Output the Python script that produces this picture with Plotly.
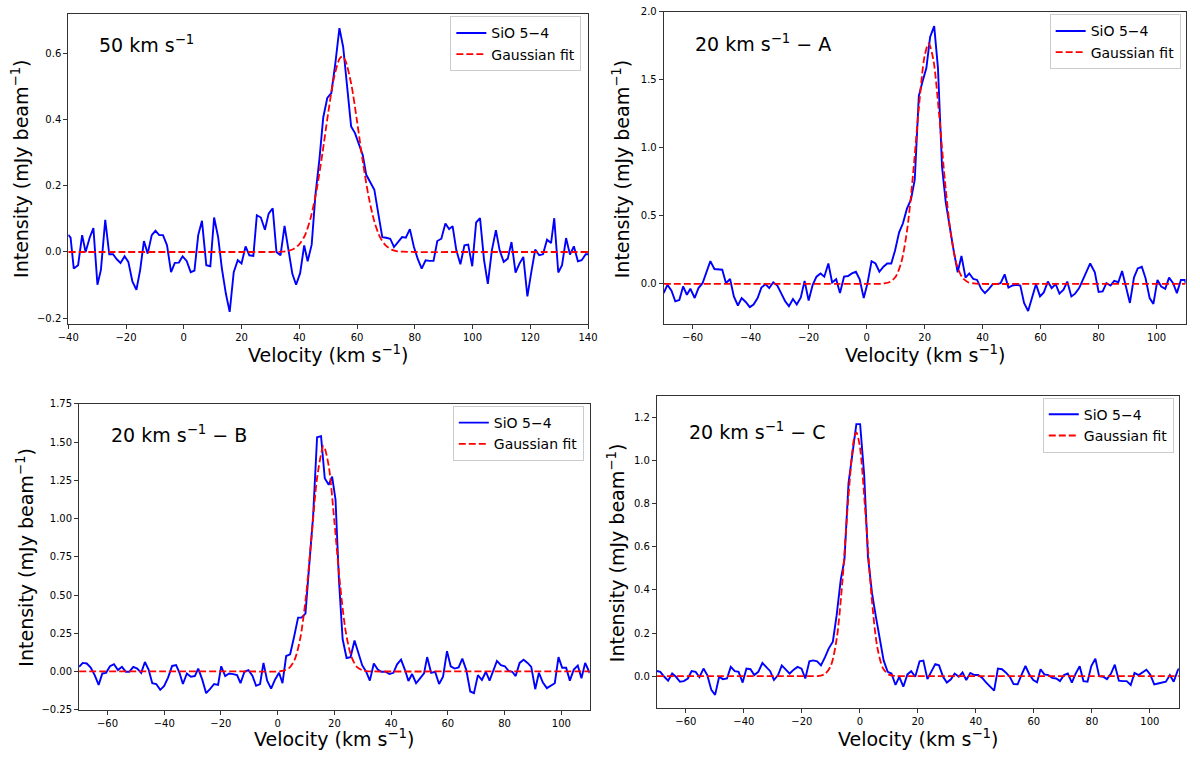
import plotly.graph_objects as go

FONT = "DejaVu Sans"
W, H = 1200, 758

# ---------------- data ----------------
# Panel 1: 50 km/s
v1 = [-40.0, -39.2, -38.1, -36.6, -35.2, -34.0, -32.6, -31.3, -29.9, -28.7,
      -27.2, -25.8, -24.5, -23.2, -21.9, -20.5, -19.2, -17.8, -16.4, -15.1,
      -13.8, -12.5, -11.1, -9.8, -8.5, -7.2, -5.8, -4.4, -3.1, -1.7,
      -0.4, 1.0, 2.4, 3.7, 5.0, 6.3, 7.8, 9.2, 10.5, 11.9,
      13.2, 14.6, 15.9, 17.3, 18.7, 20.0, 21.4, 22.7, 24.1, 25.3,
      26.7, 28.1, 29.4, 30.8, 32.1, 33.5, 34.9, 36.2, 37.6, 38.9,
      40.3, 41.7, 42.9, 44.3, 45.6, 47.0, 48.3, 49.7, 51.1, 52.5,
      53.9, 55.2, 56.6, 57.95, 59.3, 60.7, 62.0, 63.2, 64.5, 66.0,
      67.4, 68.75, 70.1, 71.5, 72.8, 74.2, 75.6, 76.9, 78.3, 79.7,
      81.0, 82.4, 83.75, 85.1, 86.5, 87.8, 89.2, 90.6, 91.9, 93.1,
      94.4, 95.8, 97.2, 98.5, 99.9, 101.25, 102.6, 104.0, 105.3, 106.7,
      108.1, 109.4, 110.8, 112.2, 113.5, 114.9, 116.25, 117.6, 119.0, 120.3,
      121.7, 123.1, 124.4, 125.8, 127.2, 128.3, 129.7, 131.0, 132.4, 133.75,
      135.1, 136.5, 137.8, 139.2, 140.0]
i1 = [0.052, 0.043, -0.050, -0.040, 0.051, 0.000, 0.043, 0.072, -0.099, -0.054,
      0.097, -0.007, -0.007, -0.022, -0.033, -0.013, -0.030, -0.089, -0.114, -0.054,
      0.033, -0.005, 0.051, 0.064, 0.051, 0.051, 0.020, -0.061, -0.033, -0.032,
      -0.013, -0.027, -0.061, -0.056, 0.051, 0.094, -0.040, -0.043, 0.104, 0.045,
      -0.050, -0.127, -0.181, -0.061, -0.025, -0.035, 0.017, -0.010, -0.012, 0.111,
      0.104, 0.067, 0.116, 0.132, 0.000, -0.010, 0.079, 0.015, -0.066, -0.099,
      -0.064, 0.020, -0.028, 0.022, 0.173, 0.282, 0.406, 0.465, 0.480, 0.570,
      0.676, 0.619, 0.500, 0.379, 0.359, 0.327, 0.292, 0.233, 0.213, 0.188,
      0.114, 0.045, 0.043, 0.040, 0.015, 0.030, 0.045, 0.043, 0.069, 0.015,
      -0.020, -0.050, -0.025, -0.027, -0.027, 0.033, 0.040, 0.086, 0.069, 0.078,
      0.005, -0.037, 0.020, 0.022, -0.043, 0.089, 0.102, -0.025, -0.096, 0.005,
      0.066, 0.005, -0.030, -0.020, 0.030, -0.062, -0.035, -0.015, -0.134, -0.064,
      0.007, -0.010, -0.007, 0.037, 0.027, 0.102, -0.062, -0.040, 0.042, -0.008,
      0.017, -0.028, -0.025, -0.007, -0.007]
fit1_v = [-40, -20, 0, 20, 30, 34, 36, 38, 40, 42, 44, 46, 48, 50, 52, 54, 55,
          56, 58, 60, 62, 64, 66, 68, 70, 72, 74, 76, 80, 100, 120, 140]
fit1_i = [0, 0, 0, 0, 0, 0.001, 0.003, 0.009, 0.023, 0.051, 0.105, 0.187, 0.297,
          0.419, 0.525, 0.584, 0.590, 0.577, 0.507, 0.395, 0.273, 0.168, 0.092,
          0.044, 0.019, 0.007, 0.002, 0.001, 0, 0, 0, 0]

# Panel 2: 20 km/s - A
v2 = [-70.0, -68.7, -67.3, -66.0, -64.6, -63.3, -62.0, -60.8, -59.3, -58.0,
      -56.6, -55.3, -53.9, -52.5, -51.2, -49.8, -48.5, -47.1, -45.8, -44.4,
      -43.1, -41.7, -40.3, -39.0, -37.6, -36.3, -34.9, -33.6, -32.2, -30.8,
      -29.5, -28.1, -26.8, -25.4, -24.1, -22.7, -21.4, -20.0, -18.6, -17.3,
      -15.9, -14.6, -13.2, -11.9, -10.5, -9.2, -7.8, -6.4, -5.1, -3.7,
      -2.4, -1.0, 0.3, 1.7, 3.05, 4.4, 5.8, 7.1, 8.5, 9.8,
      11.2, 12.5, 13.9, 15.3, 16.6, 18.0, 19.3, 20.6, 21.9, 23.3,
      24.6, 26.0, 27.3, 28.7, 30.0, 31.4, 32.7, 34.1, 35.4, 36.8,
      38.1, 39.5, 40.8, 42.2, 43.5, 44.9, 46.2, 47.6, 48.9, 50.3,
      51.6, 53.0, 54.3, 55.7, 57.0, 58.4, 59.8, 61.1, 62.5, 63.8,
      65.2, 66.5, 67.9, 69.2, 70.6, 71.9, 73.3, 74.6, 76.0, 77.1,
      78.7, 80.0, 81.4, 82.7, 84.1, 85.4, 86.8, 88.1, 89.5, 90.8,
      92.2, 93.5, 94.9, 96.2, 97.6, 98.9, 100.3, 101.6, 103.0, 104.3,
      105.7, 107.0, 108.4, 109.8, 110.0]
i2 = [-0.068, -0.007, -0.050, -0.128, -0.118, -0.019, -0.080, -0.036, -0.104, -0.031,
      0.005, 0.089, 0.167, 0.109, 0.109, 0.104, 0.005, 0.036, -0.092, -0.159,
      -0.104, -0.133, -0.171, -0.152, -0.104, -0.027, -0.002, -0.031, 0.012, -0.012,
      -0.068, -0.128, -0.164, -0.111, -0.152, -0.099, 0.022, -0.123, -0.007, 0.053,
      0.077, 0.053, 0.150, 0.010, 0.034, -0.068, 0.053, 0.058, 0.077, 0.089,
      0.034, -0.104, 0.005, 0.167, 0.150, 0.089, 0.126, 0.150, 0.150, 0.246,
      0.379, 0.444, 0.553, 0.621, 0.766, 1.382, 1.490, 1.587, 1.816, 1.896,
      1.587, 0.862, 0.597, 0.403, 0.246, 0.085, 0.205, 0.046, 0.077, 0.036,
      0.029, -0.036, -0.068, -0.036, -0.002, -0.002, 0.005, 0.070, -0.027, -0.012,
      -0.007, -0.012, -0.140, -0.200, -0.109, -0.002, -0.092, -0.063, 0.017, -0.031,
      -0.002, -0.072, -0.043, 0.017, -0.092, -0.072, -0.031, 0.029, 0.094, 0.150,
      0.085, -0.060, -0.056, 0.005, -0.012, 0.022, 0.012, 0.094, -0.027, -0.140,
      0.046, 0.114, 0.126, 0.041, -0.104, -0.147, 0.029, -0.019, -0.036, 0.046,
      0.005, -0.068, 0.029, 0.029, 0.005]
fit2_v = [-70, -40, -10, 0, 4, 6, 8, 10, 12, 14, 16, 18, 20, 21.4, 23, 25, 27,
          29, 31, 33, 35, 37, 39, 60, 80, 110]
fit2_i = [0, 0, 0, 0, 0.0, 0.003, 0.014, 0.053, 0.162, 0.402, 0.803, 1.293, 1.677,
          1.768, 1.650, 1.245, 0.757, 0.371, 0.147, 0.046, 0.012, 0.003, 0, 0, 0, 0]

# Panel 3: 20 km/s - B
v3 = [-70.0, -68.7, -67.3, -65.9, -64.5, -63.1, -61.8, -60.5, -59.1, -57.7,
      -56.3, -54.9, -53.5, -52.3, -50.9, -49.5, -48.1, -46.8, -45.5, -44.2,
      -42.8, -41.4, -40.0, -38.6, -37.2, -35.8, -34.6, -33.4, -32.0, -30.6,
      -29.2, -28.0, -26.6, -25.2, -23.8, -22.4, -21.0, -19.9, -18.5, -17.1,
      -15.7, -14.3, -13.1, -11.7, -10.3, -8.9, -7.6, -6.2, -5.0, -3.7,
      -2.3, -0.9, 0.5, 1.7, 3.0, 4.4, 5.8, 7.2, 8.4, 9.8,
      11.2, 12.5, 13.9, 15.3, 16.6, 18.0, 19.2, 20.4, 21.6, 22.9,
      24.3, 25.7, 27.1, 28.4, 29.8, 31.2, 32.5, 33.9, 35.3, 36.6,
      38.0, 39.4, 40.8, 42.1, 43.5, 44.9, 46.1, 47.4, 48.8, 50.2,
      51.6, 52.7, 54.1, 55.5, 56.9, 58.3, 59.7, 61.0, 62.4, 63.8,
      65.1, 66.5, 67.9, 69.2, 70.6, 72.0, 73.4, 74.7, 76.0, 77.3,
      78.7, 80.1, 81.4, 82.7, 83.9, 85.3, 86.7, 88.1, 89.4, 90.8,
      92.1, 93.5, 94.9, 96.3, 97.7, 99.0, 100.3, 101.7, 103.0, 104.4,
      105.8, 107.1, 108.4, 109.8, 110.0]
i3 = [0.030, 0.056, 0.052, 0.026, -0.024, -0.088, -0.013, -0.009, 0.034, 0.047,
      0.009, 0.030, -0.002, -0.002, 0.030, 0.019, -0.009, 0.062, 0.013, -0.077,
      -0.082, -0.120, -0.094, -0.039, 0.036, 0.041, -0.009, -0.082, -0.013, -0.034,
      -0.030, 0.019, -0.052, -0.142, -0.114, -0.082, -0.088, 0.034, -0.030, -0.013,
      -0.017, -0.024, -0.077, -0.002, 0.009, -0.028, -0.094, -0.082, 0.056, -0.060,
      -0.112, -0.052, -0.009, -0.077, 0.101, 0.112, 0.227, 0.352, 0.352, 0.378,
      0.712, 1.017, 1.532, 1.539, 1.264, 1.221, 1.275, 1.124, 0.600, 0.212,
      0.088, 0.094, 0.202, 0.116, 0.041, -0.002, -0.060, 0.052, 0.013, -0.002,
      -0.002, -0.017, -0.009, 0.047, 0.077, 0.009, -0.062, -0.017, -0.077, -0.045,
      -0.013, 0.094, -0.009, -0.002, -0.082, -0.034, 0.133, 0.034, 0.019, 0.026,
      0.084, 0.009, -0.131, -0.142, -0.024, -0.056, -0.002, -0.060, 0.009, 0.069,
      0.041, 0.034, 0.004, -0.002, -0.030, 0.056, 0.077, 0.056, 0.030, -0.116,
      -0.009, -0.073, -0.109, -0.092, -0.077, 0.094, 0.024, 0.024, -0.060, 0.013,
      0.039, -0.045, 0.056, -0.002, -0.010]
fit3_v = [-70, -40, -10, 0, 2, 4, 6, 8, 10, 12, 14, 16.2, 18, 20, 22, 24, 26, 28,
          30, 32, 34, 60, 80, 110]
fit3_i = [0, 0, 0, 0.0, 0.005, 0.022, 0.077, 0.220, 0.495, 0.890, 1.280, 1.474,
          1.345, 0.980, 0.570, 0.260, 0.097, 0.028, 0.007, 0.001, 0, 0, 0, 0]

# Panel 4: 20 km/s - C
v4 = [-70.0, -68.8, -67.4, -66.1, -64.7, -63.4, -62.0, -60.7, -59.3, -58.0,
      -56.6, -55.3, -53.9, -52.6, -51.2, -49.9, -48.5, -47.2, -45.8, -44.5,
      -43.1, -41.8, -40.4, -39.1, -37.7, -36.4, -35.0, -33.6, -32.3, -30.9,
      -29.6, -28.2, -26.9, -25.5, -24.2, -22.8, -21.5, -20.1, -18.8, -17.4,
      -16.1, -14.7, -13.4, -12.0, -10.7, -9.3, -8.0, -6.6, -5.3, -3.9,
      -2.6, -1.2, 0.1, 1.5, 2.8, 4.2, 5.5, 6.9, 8.2, 9.6,
      10.9, 12.3, 13.6, 15.0, 16.4, 17.7, 19.1, 20.6, 21.9, 23.3,
      24.6, 26.0, 27.3, 28.7, 30.0, 31.4, 32.7, 34.1, 35.4, 36.7,
      38.1, 39.5, 40.8, 42.2, 43.5, 44.9, 46.3, 47.6, 49.0, 50.3,
      51.7, 53.0, 54.4, 55.7, 57.1, 58.4, 59.8, 61.1, 62.3, 63.6,
      65.0, 66.3, 67.7, 69.0, 70.4, 71.7, 73.1, 74.4, 75.8, 77.1,
      78.5, 79.8, 81.2, 82.5, 83.9, 85.2, 86.6, 87.9, 89.3, 90.6,
      92.0, 93.4, 94.7, 96.1, 97.4, 98.8, 100.1, 101.5, 102.8, 104.2,
      105.5, 106.9, 108.2, 109.6, 110.0]
i4 = [0.024, 0.020, -0.003, -0.021, 0.012, -0.003, -0.026, -0.023, -0.011, 0.024,
      0.020, -0.005, 0.035, 0.005, -0.064, -0.087, -0.003, -0.014, -0.011, 0.043,
      0.023, 0.020, -0.030, 0.035, 0.032, 0.005, 0.020, 0.061, 0.043, 0.023,
      -0.018, 0.005, 0.050, 0.032, 0.012, 0.030, 0.043, 0.035, -0.011, 0.069,
      0.073, 0.069, 0.050, 0.088, 0.129, 0.160, 0.282, 0.446, 0.541, 0.896,
      1.033, 1.170, 1.170, 0.934, 0.553, 0.385, 0.279, 0.172, 0.073, 0.020,
      0.012, -0.041, -0.003, -0.049, 0.008, 0.023, -0.003, 0.069, 0.072, -0.014,
      0.020, 0.056, 0.050, -0.003, -0.030, -0.015, 0.012, -0.003, 0.017, -0.018,
      0.015, 0.005, 0.005, -0.008, -0.029, -0.049, -0.067, 0.035, 0.032, 0.017,
      -0.003, -0.037, -0.038, 0.005, 0.047, 0.009, -0.018, -0.029, 0.032, 0.008,
      0.005, -0.008, -0.011, -0.023, 0.005, 0.012, -0.030, 0.012, 0.046, -0.023,
      -0.026, 0.047, 0.081, 0.000, -0.003, -0.014, 0.012, 0.053, -0.021, -0.023,
      -0.023, -0.041, 0.015, 0.005, 0.017, 0.030, 0.008, -0.038, -0.034, -0.029,
      -0.026, 0.005, -0.026, 0.027, 0.035]
fit4_v = [-70, -40, -20, -16, -14, -12, -10, -8, -6, -4, -2, -1.2, 0, 2, 4, 6, 8,
          10, 12, 14, 40, 80, 110]
fit4_i = [0, 0, 0, 0.0, 0.001, 0.010, 0.048, 0.171, 0.442, 0.822, 1.103, 1.132,
          1.067, 0.745, 0.376, 0.136, 0.036, 0.007, 0.001, 0, 0, 0, 0]

# tick values
x1_ticks = [-40, -20, 0, 20, 40, 60, 80, 100, 120, 140]
x_ticks = [-60, -40, -20, 0, 20, 40, 60, 80, 100]
y1_ticks = [-0.2, 0.0, 0.2, 0.4, 0.6]
y2_ticks = [0.0, 0.5, 1.0, 1.5, 2.0]
y3_ticks = [-0.25, 0.0, 0.25, 0.5, 0.75, 1.0, 1.25, 1.5, 1.75]
y4_ticks = [0.0, 0.2, 0.4, 0.6, 0.8, 1.0, 1.2]

labels = ["50 km s<sup>−1</sup>",
          "20 km s<sup>−1</sup> − A",
          "20 km s<sup>−1</sup> − B",
          "20 km s<sup>−1</sup> − C"]
series_name = "SiO 5−4"
fit_name = "Gaussian fit"
x_title = "Velocity (km s<sup>−1</sup>)"
y_title = "Intensity (mJy beam<sup>−1</sup>)"


def px(x):
    return x / W


def py(y):
    return 1 - y / H


# layout (pixel geometry of each panel)
panels = [
    dict(v=v1, i=i1, fv=fit1_v, fi=fit1_i, xd=(58.3, 587.3), yd=(8.3, 323.3),
         xr=[-40, 140], yr=[-0.218, 0.718], xt=x1_ticks, yt=y1_ticks, yf=".1f",
         lab=(87.7, 53.0), leg=(580.5, 10.5), xtit=(323, 368), ytit=(24.0, 166)),
    dict(v=v2, i=i2, fv=fit2_v, fi=fit2_i, xd=(664.3, 1195.5), yd=(6.0, 322.7),
         xr=[-70, 110], yr=[-0.292, 2.0], xt=x_ticks, yt=y2_ticks, yf=".1f",
         lab=(694.3, 52.0), leg=(1190.5, 8.5), xtit=(930, 368), ytit=(636, 166)),
    dict(v=v3, i=i3, fv=fit3_v, fi=fit3_i, xd=(69.3, 589.0), yd=(404.3, 715.0),
         xr=[-70, 110], yr=[-0.25, 1.75], xt=x_ticks, yt=y3_ticks, yf=".2f",
         lab=(99.3, 449.5), leg=(583, 406.5), xtit=(329, 758), ytit=(29, 560)),
    dict(v=v4, i=i4, fv=fit4_v, fi=fit4_i, xd=(657.3, 1188.7), yd=(396.0, 713.3),
         xr=[-70, 110], yr=[-0.148, 1.302], xt=x_ticks, yt=y4_ticks, yf=".1f",
         lab=(688, 446), leg=(1183.5, 398.0), xtit=(923, 758), ytit=(630, 556)),
]

fig = go.Figure()
annotations = []
layout_extra = {}

for k, p in enumerate(panels, start=1):
    sfx = "" if k == 1 else str(k)
    leg = "legend" if k == 1 else "legend%d" % k
    fig.add_trace(go.Scatter(
        x=p["v"], y=p["i"], mode="lines", name=series_name,
        line=dict(color="#0000ff", width=1.9),
        xaxis="x" + sfx, yaxis="y" + sfx, legend=leg, hoverinfo="skip"))
    fig.add_trace(go.Scatter(
        x=p["fv"], y=p["fi"], mode="lines", name=fit_name,
        line=dict(color="#ff0000", width=1.8, dash="7px,3px", shape="spline",
                  smoothing=0.8),
        xaxis="x" + sfx, yaxis="y" + sfx, legend=leg, hoverinfo="skip"))

    axis_common = dict(showline=True, mirror=True, linecolor="#333333",
                       linewidth=1, ticks="outside", ticklen=4, tickwidth=1,
                       tickcolor="#333333", showgrid=False, zeroline=False,
                       tickfont=dict(family=FONT, size=10, color="black"))
    layout_extra["xaxis" + sfx] = dict(
        domain=[px(p["xd"][0]), px(p["xd"][1])], range=p["xr"],
        tickvals=p["xt"], anchor="y" + sfx, **axis_common)
    layout_extra["yaxis" + sfx] = dict(
        domain=[py(p["yd"][1]), py(p["yd"][0])], range=p["yr"],
        tickvals=p["yt"], tickformat=p["yf"], anchor="x" + sfx, **axis_common)
    layout_extra[leg] = dict(
        x=px(p["leg"][0]), y=py(p["leg"][1]), xanchor="right", yanchor="top",
        bgcolor="rgba(255,255,255,0.85)", bordercolor="#cccccc", borderwidth=1,
        font=dict(family=FONT, size=14, color="black"), tracegroupgap=0,
        itemwidth=30)

    annotations.append(dict(
        text=labels[k - 1], x=px(p["lab"][0]), y=py(p["lab"][1]),
        xref="paper", yref="paper", xanchor="left", yanchor="bottom",
        showarrow=False, font=dict(family=FONT, size=19, color="black")))
    annotations.append(dict(
        text=x_title, x=px(p["xtit"][0]), y=py(p["xtit"][1]),
        xref="paper", yref="paper", xanchor="center", yanchor="bottom",
        showarrow=False, font=dict(family=FONT, size=19, color="black")))
    annotations.append(dict(
        text=y_title, x=px(p["ytit"][0]), y=py(p["ytit"][1]),
        xref="paper", yref="paper", xanchor="right", yanchor="middle",
        textangle=-90, showarrow=False,
        font=dict(family=FONT, size=19, color="black")))

fig.update_layout(
    width=W, height=H, autosize=False,
    margin=dict(l=0, r=0, t=0, b=0),
    paper_bgcolor="white", plot_bgcolor="white",
    font=dict(family=FONT, color="black"),
    showlegend=True,
    annotations=annotations,
    **layout_extra)

fig.write_html("out.html", config={"displayModeBar": False},
               post_script="document.body.style.margin='0px';")
